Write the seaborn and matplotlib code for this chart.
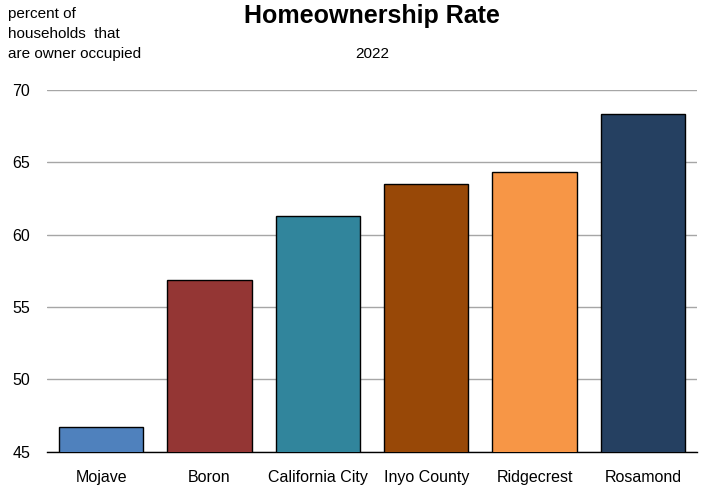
import numpy as np
import pandas as pd
import matplotlib.pyplot as plt
import seaborn as sns
from matplotlib.ticker import FixedLocator

sns.set_style('white')
plt.rcParams['font.family'] = ['Liberation Sans', 'DejaVu Sans']
plt.rcParams['text.color'] = 'black'
plt.rcParams['xtick.color'] = 'black'
plt.rcParams['ytick.color'] = 'black'

places = ['Mojave', 'Boron', 'California City', 'Inyo County', 'Ridgecrest', 'Rosamond']
rate = [46.7, 56.9, 61.3, 63.5, 64.3, 68.3]
colors = ['#4F81BD', '#943634', '#31859C', '#984807', '#F79646', '#254061']

df = pd.DataFrame({'place': places, 'rate': rate})

fig = plt.figure(figsize=(7.02, 4.88), dpi=100)
ax = fig.add_axes([0.067, 0.074, 0.926, 0.742])

sns.barplot(data=df, x='place', y='rate', hue='place', palette=colors, legend=False,
            saturation=1, width=0.78, edgecolor='black', linewidth=1, ax=ax, zorder=3)

ax.set_ylim(45, 70)
ax.set_xlim(-0.5, len(places) - 0.5)
ax.set_yticks([45, 50, 55, 60, 65, 70])
ax.yaxis.grid(True, color='#a6a6a6', linewidth=1, zorder=0)
ax.tick_params(axis='y', length=0, labelsize=11.5, pad=12)
ax.tick_params(axis='x', which='major', length=0, labelsize=11.5, pad=13)
ax.xaxis.set_minor_locator(FixedLocator(np.arange(-0.5, len(places), 1)))
ax.tick_params(axis='x', which='minor', length=8, width=1, color='black', direction='out')
for s in ['top', 'right', 'left']:
    ax.spines[s].set_visible(False)
ax.spines['bottom'].set_color('black')
ax.spines['bottom'].set_linewidth(1)
ax.set_xlabel('')
ax.set_ylabel('')

fig.text(0.53, 0.968, 'Homeownership Rate', ha='center', va='center', fontsize=18, fontweight='bold')
fig.text(0.53, 0.89, '2022', ha='center', va='center', fontsize=11)
fig.text(0.011, 0.985, 'percent of\nhouseholds  that\nare owner occupied', ha='left', va='top',
         fontsize=11, linespacing=1.55)

fig.savefig('out.png', dpi=100)
